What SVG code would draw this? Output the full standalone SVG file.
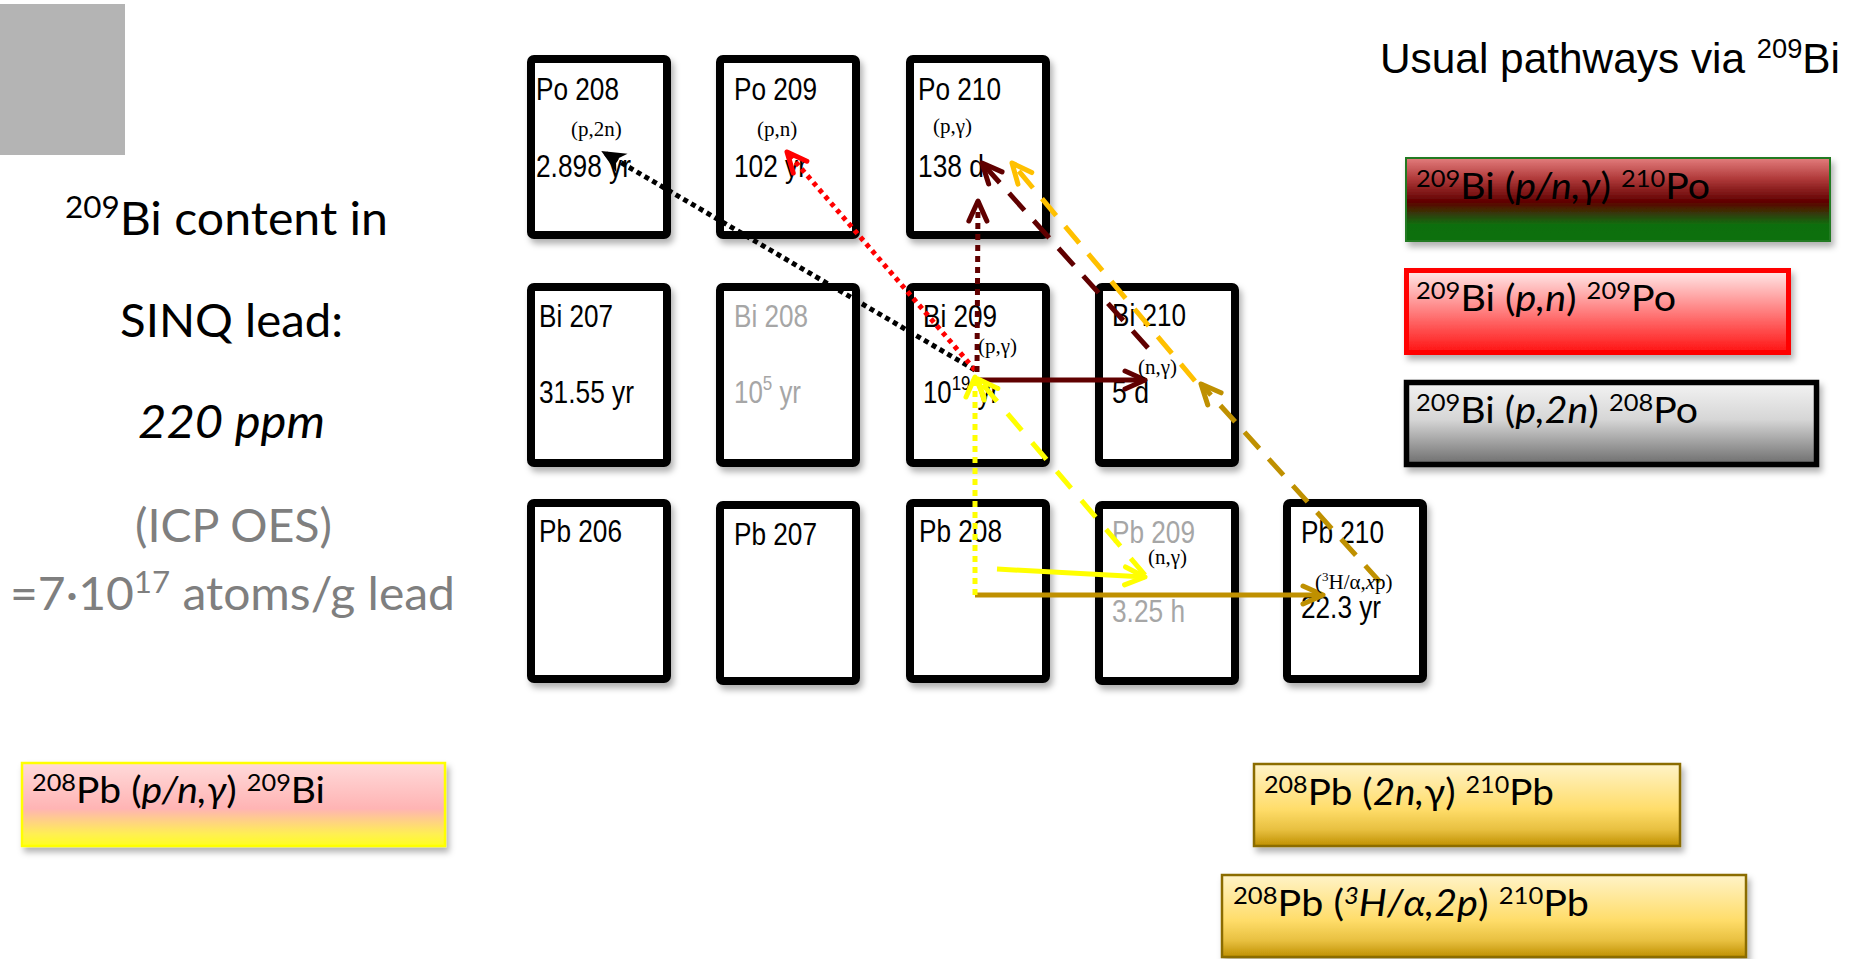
<svg xmlns="http://www.w3.org/2000/svg" width="1855" height="959" viewBox="0 0 1855 959">
<defs>
<style>
.box{fill:#fff;stroke:#000;stroke-width:8}
.nl{font-family:"Liberation Sans Narrow","Liberation Sans",Arial,sans-serif;font-size:32px;fill:#000}
.gr{fill:#a6a6a6}
.rx{font-family:"Liberation Serif","Times New Roman",serif;font-size:21px;fill:#000}
.cal{font-family:Lato,Carlito,"Open Sans",sans-serif;fill:#000}
.ln{fill:none;stroke-width:5}
.mk{fill:none;stroke-width:5;stroke-linecap:round;stroke-linejoin:round}
</style>
<filter id="sh" x="-10%" y="-10%" width="130%" height="140%">
<feDropShadow dx="3" dy="5" stdDeviation="3" flood-color="#000" flood-opacity="0.3"/>
</filter>
<marker id="mBk" markerUnits="userSpaceOnUse" viewBox="-30 -16 40 32" markerWidth="40" markerHeight="32" refX="0" refY="0" orient="auto">
<path d="M2,0 L-22,-11 L-15,0 L-22,11 Z" fill="#000"/>
</marker>
<marker id="mRd" markerUnits="userSpaceOnUse" viewBox="-30 -16 40 32" markerWidth="40" markerHeight="32" refX="0" refY="0" orient="auto">
<path class="mk" d="M-20,-9 L0,0 L-20,9" stroke="#ff0000"/>
</marker>
<marker id="mMr" markerUnits="userSpaceOnUse" viewBox="-30 -16 40 32" markerWidth="40" markerHeight="32" refX="0" refY="0" orient="auto">
<path class="mk" d="M-20,-9 L0,0 L-20,9" stroke="#600000"/>
</marker>
<marker id="mGo" markerUnits="userSpaceOnUse" viewBox="-30 -16 40 32" markerWidth="40" markerHeight="32" refX="0" refY="0" orient="auto">
<path class="mk" d="M-20,-9 L0,0 L-20,9" stroke="#ffc000"/>
</marker>
<marker id="mDg" markerUnits="userSpaceOnUse" viewBox="-30 -16 40 32" markerWidth="40" markerHeight="32" refX="0" refY="0" orient="auto">
<path class="mk" d="M-20,-9 L0,0 L-20,9" stroke="#bf9000"/>
</marker>
<marker id="mYe" markerUnits="userSpaceOnUse" viewBox="-30 -16 40 32" markerWidth="40" markerHeight="32" refX="0" refY="0" orient="auto">
<path class="mk" d="M-20,-9 L0,0 L-20,9" stroke="#ffff00"/>
</marker>
<linearGradient id="g1" x1="0" y1="0" x2="0" y2="1">
<stop offset="0" stop-color="#e37d7d"/><stop offset="0.25" stop-color="#b03a3a"/><stop offset="0.53" stop-color="#5f0000"/><stop offset="0.8" stop-color="#0f6e0f"/><stop offset="1" stop-color="#0f700f"/>
</linearGradient>
<linearGradient id="g2" x1="0" y1="0" x2="0" y2="1">
<stop offset="0" stop-color="#ffeaea"/><stop offset="1" stop-color="#ff1212"/>
</linearGradient>
<linearGradient id="g3" x1="0" y1="0" x2="0" y2="1">
<stop offset="0" stop-color="#f3f3f3"/><stop offset="0.45" stop-color="#d6d6d6"/><stop offset="1" stop-color="#6d6d6d"/>
</linearGradient>
<linearGradient id="g4" x1="0" y1="0" x2="0" y2="1">
<stop offset="0" stop-color="#ffdada"/><stop offset="0.55" stop-color="#ffb4b4"/><stop offset="0.85" stop-color="#ffee55"/><stop offset="1" stop-color="#ffff20"/>
</linearGradient>
<linearGradient id="g5" x1="0" y1="0" x2="0" y2="1">
<stop offset="0" stop-color="#fff3c8"/><stop offset="0.55" stop-color="#ffdd6a"/><stop offset="0.8" stop-color="#e8c040"/><stop offset="1" stop-color="#bf9000"/>
</linearGradient>
</defs>

<rect x="0" y="4" width="125" height="151" fill="#b4b4b4"/>

<g id="info-left">
<text class="cal" x="65" y="235" font-size="46" textLength="323" lengthAdjust="spacingAndGlyphs"><tspan font-size="30" dy="-17">209</tspan><tspan dy="17">Bi content in</tspan></text>
<text class="cal" x="120" y="337" font-size="46" textLength="223" lengthAdjust="spacingAndGlyphs">SINQ lead:</text>
<text class="cal" x="138" y="438" font-size="46" font-style="italic" textLength="187" lengthAdjust="spacingAndGlyphs">220 ppm</text>
<text class="cal" x="135" y="542" font-size="46" fill="#7f7f7f" style="fill:#7f7f7f" textLength="197" lengthAdjust="spacingAndGlyphs">(ICP OES)</text>
<text class="cal" x="10" y="610" font-size="46" style="fill:#7f7f7f" textLength="445" lengthAdjust="spacingAndGlyphs">=7·10<tspan font-size="30" dy="-17">17</tspan><tspan dy="17"> atoms/g lead</tspan></text>
</g>

<g id="title">
<text x="1380" y="73" font-family="Liberation Sans, Arial, sans-serif" font-size="42" textLength="460" lengthAdjust="spacingAndGlyphs">Usual pathways via <tspan font-size="27" dy="-15">209</tspan><tspan dy="15">Bi</tspan></text>
</g>

<g id="Po208"><rect class="box" x="531" y="59" width="136" height="176" rx="3" filter="url(#sh)"/>
<text class="nl" x="536" y="100" textLength="83" lengthAdjust="spacingAndGlyphs">Po 208</text>
<text class="nl" x="536" y="177" textLength="95" lengthAdjust="spacingAndGlyphs">2.898 yr</text></g>
<g id="Po209"><rect class="box" x="720" y="59" width="136" height="176" rx="3" filter="url(#sh)"/>
<text class="nl" x="734" y="100" textLength="83" lengthAdjust="spacingAndGlyphs">Po 209</text>
<text class="nl" x="734" y="177" textLength="73" lengthAdjust="spacingAndGlyphs">102 yr</text></g>
<g id="Po210"><rect class="box" x="910" y="59" width="136" height="176" rx="3" filter="url(#sh)"/>
<text class="nl" x="918" y="100" textLength="83" lengthAdjust="spacingAndGlyphs">Po 210</text>
<text class="nl" x="918" y="177" textLength="66" lengthAdjust="spacingAndGlyphs">138 d</text></g>

<g id="Bi207"><rect class="box" x="531" y="287" width="136" height="176" rx="3" filter="url(#sh)"/>
<text class="nl" x="539" y="327" textLength="74" lengthAdjust="spacingAndGlyphs">Bi 207</text>
<text class="nl" x="539" y="403" textLength="95" lengthAdjust="spacingAndGlyphs">31.55 yr</text></g>
<g id="Bi208"><rect class="box" x="720" y="287" width="136" height="176" rx="3" filter="url(#sh)"/>
<text class="nl gr" x="734" y="327" textLength="74" lengthAdjust="spacingAndGlyphs">Bi 208</text>
<text class="nl gr" x="734" y="403" textLength="67" lengthAdjust="spacingAndGlyphs">10<tspan font-size="21" dy="-13">5</tspan><tspan dy="13"> yr</tspan></text></g>
<g id="Bi209"><rect class="box" x="910" y="287" width="136" height="176" rx="3" filter="url(#sh)"/>
<text class="nl" x="923" y="327" textLength="74" lengthAdjust="spacingAndGlyphs">Bi 209</text>
<text class="nl" x="923" y="403" textLength="76" lengthAdjust="spacingAndGlyphs">10<tspan font-size="21" dy="-13">19</tspan><tspan dy="13"> yr</tspan></text></g>
<g id="Bi210"><rect class="box" x="1099" y="287" width="136" height="176" rx="3" filter="url(#sh)"/>
<text class="nl" x="1112" y="326" textLength="74" lengthAdjust="spacingAndGlyphs">Bi 210</text>
<text class="nl" x="1112" y="403" textLength="37" lengthAdjust="spacingAndGlyphs">5 d</text></g>

<g id="Pb206"><rect class="box" x="531" y="503" width="136" height="176" rx="3" filter="url(#sh)"/>
<text class="nl" x="539" y="542" textLength="83" lengthAdjust="spacingAndGlyphs">Pb 206</text></g>
<g id="Pb207"><rect class="box" x="720" y="505" width="136" height="176" rx="3" filter="url(#sh)"/>
<text class="nl" x="734" y="545" textLength="83" lengthAdjust="spacingAndGlyphs">Pb 207</text></g>
<g id="Pb208"><rect class="box" x="910" y="503" width="136" height="176" rx="3" filter="url(#sh)"/>
<text class="nl" x="919" y="542" textLength="83" lengthAdjust="spacingAndGlyphs">Pb 208</text></g>
<g id="Pb209"><rect class="box" x="1099" y="505" width="136" height="176" rx="3" filter="url(#sh)"/>
<text class="nl gr" x="1112" y="543" textLength="83" lengthAdjust="spacingAndGlyphs">Pb 209</text>
<text class="nl gr" x="1112" y="622" textLength="73" lengthAdjust="spacingAndGlyphs">3.25 h</text></g>
<g id="Pb210"><rect class="box" x="1287" y="503" width="136" height="176" rx="3" filter="url(#sh)"/>
<text class="nl" x="1301" y="543" textLength="83" lengthAdjust="spacingAndGlyphs">Pb 210</text>
<text class="nl" x="1301" y="618" textLength="80" lengthAdjust="spacingAndGlyphs">22.3 yr</text></g>

<g id="connectors">
<line class="ln" x1="975" y1="370" x2="603" y2="152" stroke="#000" stroke-dasharray="5 4" marker-end="url(#mBk)"/>
<line class="ln" x1="975" y1="370" x2="787" y2="152" stroke="#ff0000" stroke-width="4.5" stroke-dasharray="4.5 4.5" marker-end="url(#mRd)"/>
<line class="ln" x1="977" y1="372" x2="978" y2="201" stroke="#600000" stroke-width="6" stroke-dasharray="6 5" marker-end="url(#mMr)"/>
<line class="ln" x1="975" y1="380" x2="1145" y2="380" stroke="#600000" marker-end="url(#mMr)"/>
<line class="ln" x1="1148" y1="348" x2="982" y2="163" stroke="#600000" stroke-width="5.5" stroke-dasharray="23 14" marker-end="url(#mMr)"/>
<line class="ln" x1="1195" y1="381" x2="1012" y2="163" stroke="#ffc000" stroke-width="5.5" stroke-dasharray="22 14" marker-end="url(#mGo)"/>
<line class="ln" x1="1380" y1="582" x2="1201" y2="384" stroke="#bf9000" stroke-width="5.5" stroke-dasharray="22 14" marker-end="url(#mDg)"/>
<line class="ln" x1="975" y1="595" x2="1323" y2="595" stroke="#bf9000" marker-end="url(#mDg)"/>
<line class="ln" x1="975" y1="595" x2="975" y2="377" stroke="#ffff00" stroke-dasharray="6 5" marker-end="url(#mYe)"/>
<line class="ln" x1="1145" y1="575" x2="978" y2="379" stroke="#ffff00" stroke-width="5.5" stroke-dasharray="22 16" marker-end="url(#mYe)"/>
<line class="ln" x1="997" y1="569" x2="1145" y2="577" stroke="#ffff00" stroke-width="6" marker-end="url(#mYe)"/>
</g>

<g id="reaction-labels">
<text class="rx" x="571" y="136">(p,2n)</text>
<text class="rx" x="757" y="136">(p,n)</text>
<text class="rx" x="933" y="133">(p,γ)</text>
<text class="rx" x="978" y="353">(p,γ)</text>
<text class="rx" x="1138" y="374">(n,γ)</text>
<text class="rx" x="1148" y="564">(n,γ)</text>
<text class="rx" x="1315" y="589">(<tspan font-size="13" dy="-8">3</tspan><tspan dy="8">H/α,</tspan><tspan font-style="italic">x</tspan>p)</text>
</g>

<g id="path-BiPo210">
<rect x="1406" y="158" width="424" height="83" fill="url(#g1)" stroke="#237a23" stroke-width="2" filter="url(#sh)"/>
<text class="cal" x="1416" y="199" font-size="37" textLength="294" lengthAdjust="spacingAndGlyphs"><tspan font-size="24" dy="-12">209</tspan><tspan dy="12">Bi (</tspan><tspan font-style="italic">p/n,γ</tspan>) <tspan font-size="24" dy="-12">210</tspan><tspan dy="12">Po</tspan></text>
</g>
<g id="path-BiPo209">
<rect x="1406.5" y="270.5" width="382" height="82" fill="url(#g2)" stroke="#ff0000" stroke-width="5" filter="url(#sh)"/>
<text class="cal" x="1416" y="311" font-size="37" textLength="260" lengthAdjust="spacingAndGlyphs"><tspan font-size="24" dy="-12">209</tspan><tspan dy="12">Bi (</tspan><tspan font-style="italic">p,n</tspan>) <tspan font-size="24" dy="-12">209</tspan><tspan dy="12">Po</tspan></text>
</g>
<g id="path-BiPo208">
<rect x="1406.5" y="382.5" width="410" height="82" fill="url(#g3)" stroke="#000" stroke-width="5.5" filter="url(#sh)"/>
<text class="cal" x="1416" y="423" font-size="37" textLength="282" lengthAdjust="spacingAndGlyphs"><tspan font-size="24" dy="-12">209</tspan><tspan dy="12">Bi (</tspan><tspan font-style="italic">p,2n</tspan>) <tspan font-size="24" dy="-12">208</tspan><tspan dy="12">Po</tspan></text>
</g>
<g id="path-PbBi209">
<rect x="22" y="763" width="423" height="83" fill="url(#g4)" stroke="#ffff00" stroke-width="2.5" filter="url(#sh)"/>
<text class="cal" x="32" y="803" font-size="37" textLength="293" lengthAdjust="spacingAndGlyphs"><tspan font-size="24" dy="-12">208</tspan><tspan dy="12">Pb (</tspan><tspan font-style="italic">p/n,γ</tspan>) <tspan font-size="24" dy="-12">209</tspan><tspan dy="12">Bi</tspan></text>
</g>
<g id="path-PbPb210-n">
<rect x="1254" y="764" width="426" height="82" fill="url(#g5)" stroke="#8b6c00" stroke-width="2.5" filter="url(#sh)"/>
<text class="cal" x="1264" y="805" font-size="37" textLength="290" lengthAdjust="spacingAndGlyphs"><tspan font-size="24" dy="-12">208</tspan><tspan dy="12">Pb (</tspan><tspan font-style="italic">2n,</tspan>γ) <tspan font-size="24" dy="-12">210</tspan><tspan dy="12">Pb</tspan></text>
</g>
<g id="path-PbPb210-H">
<rect x="1222" y="875" width="524" height="82" fill="url(#g5)" stroke="#8b6c00" stroke-width="2.5" filter="url(#sh)"/>
<text class="cal" x="1233" y="916" font-size="37" textLength="356" lengthAdjust="spacingAndGlyphs"><tspan font-size="24" dy="-12">208</tspan><tspan dy="12">Pb (</tspan><tspan font-style="italic"><tspan font-size="24" dy="-12">3</tspan><tspan dy="12">H/α,2p</tspan></tspan>) <tspan font-size="24" dy="-12">210</tspan><tspan dy="12">Pb</tspan></text>
</g>
</svg>
